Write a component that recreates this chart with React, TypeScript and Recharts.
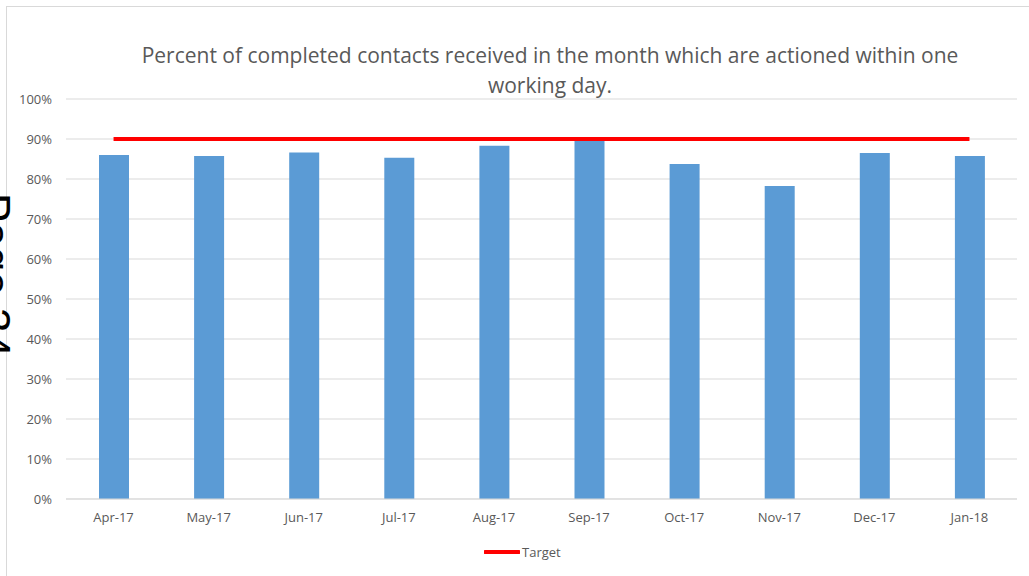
import React from 'react';
import {
  ComposedChart,
  Bar,
  Line,
  XAxis,
  YAxis,
  CartesianGrid,
  Legend,
} from 'recharts';

const months = ['Apr-17', 'May-17', 'Jun-17', 'Jul-17', 'Aug-17', 'Sep-17', 'Oct-17', 'Nov-17', 'Dec-17', 'Jan-18'];
const actioned = [0.86, 0.8575, 0.866, 0.853, 0.883, 0.8975, 0.8375, 0.7825, 0.865, 0.8575];
const target = [0.9, 0.9, 0.9, 0.9, 0.9, 0.9, 0.9, 0.9, 0.9, 0.9];
const yTicks = [0, 0.1, 0.2, 0.3, 0.4, 0.5, 0.6, 0.7, 0.8, 0.9, 1];

const TEXT = '#595959';
const FONT = '"Open Sans", "Liberation Sans", sans-serif';

const chartData = months.map((m, i) => ({
  month: m,
  actioned: actioned[i],
  target: target[i],
}));

// legend only shows the target line
function TargetLegend() {
  return (
    <div style={{ display: 'flex', alignItems: 'center', fontFamily: FONT, fontSize: 13, color: TEXT }}>
      <svg width={36} height={8}>
        <line x1={1} y1={4} x2={35} y2={4} stroke="#FF0000" strokeWidth={4} strokeLinecap="round" />
      </svg>
      <span style={{ marginLeft: 2 }}>Target</span>
    </div>
  );
}

export default function App() {
  return (
    <div style={{ position: 'absolute', left: 0, top: 0, width: 1029, height: 576, overflow: 'hidden', background: '#fff' }}>
      {/* chart frame */}
      <div
        style={{
          position: 'absolute',
          left: 6,
          top: 6,
          width: 1040,
          height: 600,
          border: '1px solid #d9d9d9',
        }}
      />

      {/* page number bleeding in from the left */}
      <div
        style={{
          position: 'absolute',
          left: 16,
          top: 193,
          transform: 'rotate(90deg)',
          transformOrigin: '0 0',
          fontFamily: '"Liberation Sans", Arial, sans-serif',
          fontSize: 44,
          lineHeight: '44px',
          whiteSpace: 'nowrap',
          color: '#000',
        }}
      >
        Page 34
      </div>

      <div
        style={{
          position: 'absolute',
          left: 0,
          top: 40,
          width: 1100,
          textAlign: 'center',
          fontFamily: FONT,
          fontSize: 21,
          lineHeight: '30px',
          color: TEXT,
        }}
      >
        Percent of completed contacts received in the month which are actioned within one
        <br />
        working day.
      </div>

      <div style={{ position: 'absolute', left: 0, top: 0 }}>
        <ComposedChart
          width={1029}
          height={576}
          data={chartData}
          margin={{ top: 99, right: 12, left: 6, bottom: 47 }}
        >
          <CartesianGrid vertical={false} stroke="#d9d9d9" />
          <XAxis
            dataKey="month"
            height={30}
            axisLine={{ stroke: '#d9d9d9' }}
            tickLine={false}
            tickMargin={8}
            tick={{ fill: TEXT, fontSize: 13, fontFamily: FONT }}
          />
          <YAxis
            width={60}
            domain={[0, 1]}
            ticks={yTicks}
            tickFormatter={(v: number) => `${Math.round(v * 100)}%`}
            axisLine={false}
            tickLine={false}
            tickMargin={8}
            tick={{ fill: TEXT, fontSize: 13, fontFamily: FONT }}
          />
          <Bar dataKey="actioned" fill="#5B9BD5" barSize={30} isAnimationActive={false} />
          <Line
            dataKey="target"
            type="linear"
            stroke="#FF0000"
            strokeWidth={4}
            dot={false}
            activeDot={false}
            isAnimationActive={false}
          />
          <Legend
            layout="horizontal"
            verticalAlign="middle"
            align="center"
            content={<TargetLegend />}
            wrapperStyle={{ left: 484, top: 543, width: 120, height: 18 }}
          />
        </ComposedChart>
      </div>
    </div>
  );
}
